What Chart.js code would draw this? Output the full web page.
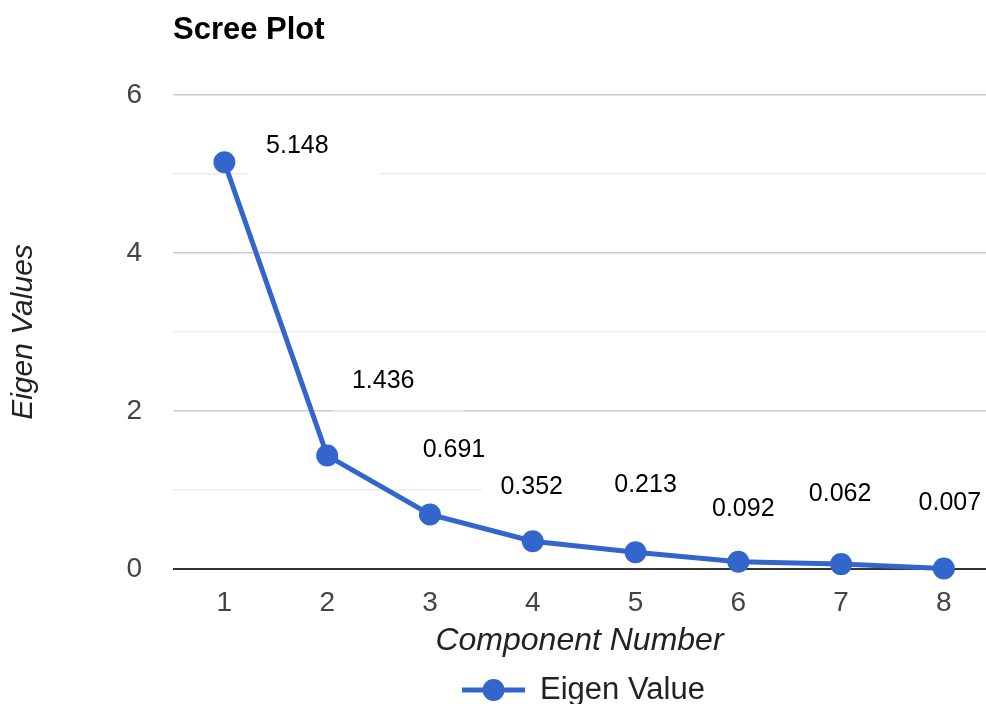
<!DOCTYPE html>
<html>
<head>
<meta charset="utf-8">
<script src="https://cdn.jsdelivr.net/npm/chart.js@4/dist/chart.umd.min.js"></script>
<style>
  html, body { margin:0; padding:0; background:#fff; overflow:hidden; }
  #wrap { width:986px; height:704px; position:relative; }
  canvas { display:block; }
</style>
</head>
<body>
<div id="wrap"><canvas id="scree"></canvas></div>
<script>
// data
const components = [1, 2, 3, 4, 5, 6, 7, 8];
const eigenValues = [5.148, 1.436, 0.691, 0.352, 0.213, 0.092, 0.062, 0.007];
const yTicks = [0, 1, 2, 3, 4, 5, 6];

const BLUE = '#3366cc';
const FONT = "'Liberation Sans', Arial, sans-serif";

// where each value label sits relative to its point (px)
const labelOffsets = [[73,-16],[56,-74],[24,-64],[-1,-54],[10,-67],[5,-53],[-1,-70],[6,-65]];

const extras = {
  id: 'extras',
  beforeDatasetsDraw(chart) {
    const ctx = chart.ctx, meta = chart.getDatasetMeta(0);
    ctx.save();
    ctx.font = '25px ' + FONT;
    ctx.textAlign = 'center'; ctx.textBaseline = 'middle';
    meta.data.forEach((pt, i) => {
      const txt = eigenValues[i].toFixed(3);
      const [dx, dy] = labelOffsets[i];
      const cx = pt.x + dx, cy = pt.y + dy;
      const w = ctx.measureText(txt).width;
      ctx.fillStyle = '#fff';
      ctx.fillRect(cx - w/2 - 19, cy - 22, w + 69, 51);
      ctx.fillStyle = '#000';
      ctx.fillText(txt, cx, cy);
    });
    ctx.restore();
  },
  afterDraw(chart) {
    const ctx = chart.ctx, a = chart.chartArea;
    ctx.save();
    // title
    ctx.font = 'bold 31px ' + FONT;
    ctx.fillStyle = '#000'; ctx.textAlign = 'left'; ctx.textBaseline = 'middle';
    ctx.fillText('Scree Plot', a.left, 30);
    // legend
    ctx.font = '31px ' + FONT;
    const txt = 'Eigen Value', tw = ctx.measureText(txt).width;
    const total = 63 + 15 + tw;
    const x0 = (a.left + a.right) / 2 + 4 - total / 2, y = 690;
    ctx.strokeStyle = BLUE; ctx.lineWidth = 5;
    ctx.beginPath(); ctx.moveTo(x0, y); ctx.lineTo(x0 + 63, y); ctx.stroke();
    ctx.fillStyle = BLUE;
    ctx.beginPath(); ctx.arc(x0 + 31.5, y, 11, 0, Math.PI * 2); ctx.fill();
    ctx.fillStyle = '#222';
    ctx.fillText(txt, x0 + 78, y);
    ctx.restore();
  }
};

new Chart(document.getElementById('scree'), {
  type: 'line',
  data: {
    datasets: [{
      label: 'Eigen Value',
      data: components.map((c, i) => ({ x: c, y: eigenValues[i] })),
      borderColor: BLUE,
      backgroundColor: BLUE,
      borderWidth: 5,
      pointRadius: 11,
      pointHoverRadius: 11,
      pointBorderWidth: 0,
      tension: 0,
      clip: false,
    }]
  },
  options: {
    responsive: true, maintainAspectRatio: false,
    animation: false,
    layout: { autoPadding: false, padding: { top: 95, right: 0, bottom: 40, left: 0 } },
    plugins: { legend: { display: false }, title: { display: false }, tooltip: { enabled: false } },
    scales: {
      x: {
        type: 'linear', min: 0.5, max: 8.41,
        afterFit: s => { s.height = 95; s.paddingLeft = 0; s.paddingRight = 0; },
        afterBuildTicks: s => { s.ticks = components.map(v => ({ value: v })); },
        grid: { display: false, drawTicks: false },
        border: { display: false },
        ticks: { color: '#444', font: { family: FONT, size: 28 }, padding: 17, callback: v => v },
        title: { display: true, text: 'Component Number', color: '#222',
                 font: { family: FONT, size: 32, style: 'italic' }, padding: { top: 0, bottom: 4 } }
      },
      y: {
        min: 0, max: 6,
        afterFit: s => { s.width = 173; },
        afterBuildTicks: s => { s.ticks = yTicks.map(v => ({ value: v })); },
        grid: {
          drawTicks: false,
          color: c => c.tick.value === 0 ? '#333' : (c.tick.value % 2 === 0 ? '#cccccc' : '#ebebeb'),
          lineWidth: c => c.tick.value === 0 ? 2 : 1.5,
        },
        border: { display: false },
        ticks: { color: '#444', font: { family: FONT, size: 28 }, padding: 31,
                 callback: v => v % 2 === 0 ? v : '' },
        title: { display: true, text: 'Eigen Values', color: '#222',
                 font: { family: FONT, size: 30, style: 'italic' }, padding: { top: 6, bottom: 0 } }
      }
    }
  },
  plugins: [extras]
});
</script>
</body>
</html>
